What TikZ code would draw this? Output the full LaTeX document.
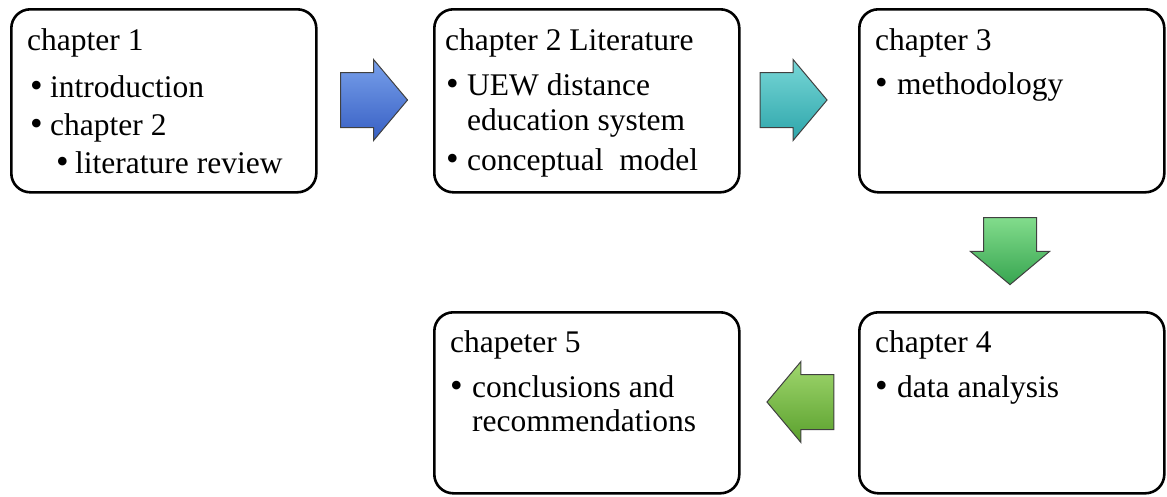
\documentclass[tikz,border=0pt]{standalone}
\usepackage{fontspec}
\setmainfont{Liberation Serif}
\usetikzlibrary{shapes.arrows}
\definecolor{arrblueA}{RGB}{120,160,235}
\definecolor{arrblueB}{RGB}{55,95,195}
\definecolor{arrtealA}{RGB}{120,215,215}
\definecolor{arrtealB}{RGB}{45,165,170}
\definecolor{arrgreenA}{RGB}{130,220,140}
\definecolor{arrgreenB}{RGB}{55,165,80}
\definecolor{arrlimeA}{RGB}{160,215,110}
\definecolor{arrlimeB}{RGB}{90,160,45}
\tikzset{
  chapbox/.style={draw=black, line width=2.6pt, rounded corners=19pt, fill=white,
    inner sep=0pt, anchor=north west},
  txt/.style={anchor=base west, inner sep=0pt, font=\fontsize{31.5}{37}\selectfont},
  bul/.style={anchor=base west, inner sep=0pt, font=\fontsize{36}{37}\selectfont},
  flowarrow/.style={single arrow, draw=black!75, line width=1pt, inner xsep=0pt,
    inner ysep=27pt, single arrow head extend=13pt, single arrow tip angle=100,
    minimum height=67pt},
  flowarrowv/.style={flowarrow, inner xsep=26pt, inner ysep=0pt, shape border rotate=270},
}
\begin{document}
\begin{tikzpicture}[x=1pt,y=-1pt]
\useasboundingbox (0,0) rectangle (1167,496);
% boxes
\node[chapbox, minimum width=305pt, minimum height=183pt] (b1) at (10,8) {};
\node[chapbox, minimum width=305pt, minimum height=183pt] (b2) at (433,8) {};
\node[chapbox, minimum width=305pt, minimum height=183pt] (b3) at (858,8) {};
\node[chapbox, minimum width=305pt, minimum height=181pt] (b4) at (858,311) {};
\node[chapbox, minimum width=305pt, minimum height=181pt] (b5) at (433,311) {};
% box 1 text
\node[txt] (t1a) at (27,50) {chapter 1};
\node[bul] (t1b) at (30,97) {•};
\node[txt] (t1c) at (50,97) {introduction};
\node[bul] (t1d) at (30,135) {•};
\node[txt] (t1e) at (50,135) {chapter 2};
\node[bul] (t1f) at (56,173) {•};
\node[txt] (t1g) at (75,173) {literature review};
% box 2 text
\node[txt] (t2a) at (445,50) {chapter 2 Literature};
\node[bul] (t2b) at (446,95) {•};
\node[txt] (t2c) at (467,95) {UEW distance};
\node[txt] (t2d) at (467,130) {education system};
\node[bul] (t2e) at (446,170) {•};
\node[txt] (t2f) at (467,170) {conceptual\ \ model};
% box 3 text
\node[txt] (t3a) at (875,50) {chapter 3};
\node[bul] (t3b) at (875,94) {•};
\node[txt] (t3c) at (897,94) {methodology};
% box 4 text
\node[txt] (t4a) at (875,352) {chapter 4};
\node[bul] (t4b) at (875,397) {•};
\node[txt] (t4c) at (897,397) {data analysis};
% box 5 text
\node[txt] (t5a) at (450,352) {chapeter 5};
\node[bul] (t5b) at (450,397) {•};
\node[txt] (t5c) at (472,397) {conclusions and};
\node[txt] (t5d) at (472,431) {recommendations};
% arrows
\node[flowarrow, top color=arrblueA, bottom color=arrblueB] (a1) at (362.5,100) {};
\node[flowarrow, top color=arrtealA, bottom color=arrtealB] (a2) at (782,100) {};
\node[flowarrowv, top color=arrgreenA, bottom color=arrgreenB] (a3) at (1010,240) {};
\node[flowarrow, shape border rotate=180, top color=arrlimeA, bottom color=arrlimeB] (a4) at (812,402) {};
\end{tikzpicture}
\end{document}
